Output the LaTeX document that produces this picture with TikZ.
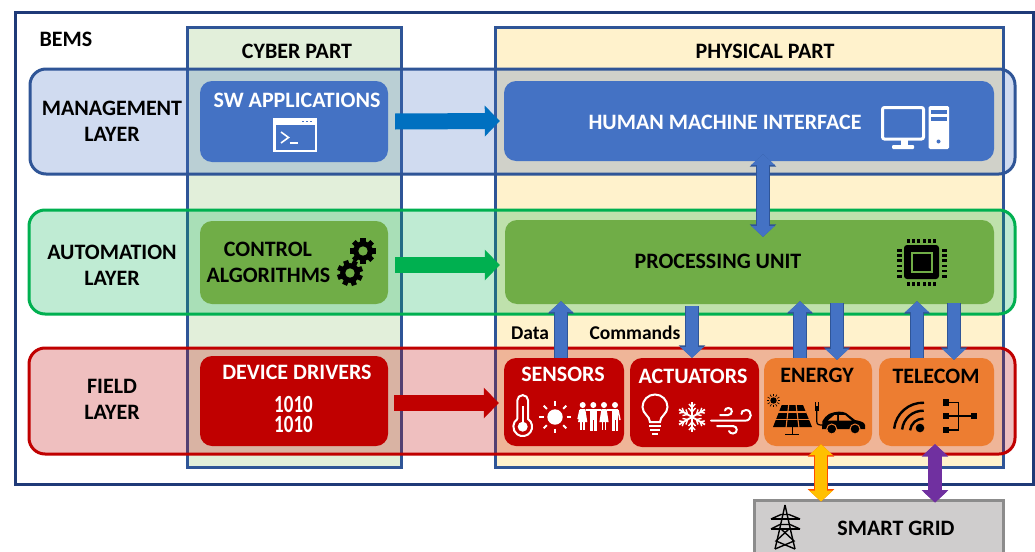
\documentclass[tikz,border=0pt]{standalone}
\usepackage{fontspec}
\setmainfont{Carlito}
\usetikzlibrary{arrows.meta,calc}
\definecolor{dkblue}{HTML}{1F3A78}
\definecolor{edgeblue}{HTML}{2F5597}
\definecolor{boxblue}{HTML}{4472C4}
\definecolor{boxgreen}{HTML}{70AD47}
\definecolor{boxred}{HTML}{C00000}
\definecolor{boxorange}{HTML}{ED7D31}
\definecolor{laygreen}{HTML}{00B050}
\definecolor{cyberfill}{HTML}{E2EFDA}
\definecolor{physfill}{HTML}{FFF2CC}
\definecolor{arrowblue}{HTML}{0070C0}
\definecolor{yellowarrow}{HTML}{FFC000}
\definecolor{purplearrow}{HTML}{7030A0}
\definecolor{gridfill}{HTML}{CFCDCD}
\definecolor{gridedge}{HTML}{8C8C8C}
\tikzset{
  x=1pt,y=1pt,
  lbl/.style={font=\bfseries\fontsize{22}{26}\selectfont,align=center,inner sep=0pt,text=black},
  wlbl/.style={lbl,text=white},
  part/.style={draw=edgeblue,line width=3pt,minimum width=#1,inner sep=0pt},
  layerbox/.style={line width=3pt,fill opacity=.25,rounded corners=16pt,inner sep=0pt},
  card/.style={rounded corners=12pt,inner sep=0pt},
  flowarrow/.style={line width=16pt,-{Triangle[length=15pt,width=30pt]}},
  updown/.style 2 args={draw=#1,line width=12pt,
     preaction={draw=#2,line width=13.6pt,-{Triangle[length=12.5pt,width=26pt]}},
     -{Triangle[length=10.8pt,width=23pt]}},
  bothways/.style 2 args={draw=#1,line width=12pt,
     preaction={draw=#2,line width=14pt,{Triangle[length=12.5pt,width=26pt]}-{Triangle[length=12.5pt,width=26pt]}},
     {Triangle[length=10.8pt,width=23pt]}-{Triangle[length=10.8pt,width=23pt]}},
  wico/.style={draw=white,line width=2pt},
}
\newcommand{\mygear}[4]{%
  \begin{scope}[shift={(#1,#2)}]
    \foreach \a in {0,45,...,315}{\fill[black,rotate=\a+#4] (-.2*#3 pt,0pt) rectangle (.2*#3 pt,#3 pt);}
    \fill[black] (0,0) circle (.76*#3 pt);
    \fill[boxgreen] (0,0) circle (.36*#3 pt);
  \end{scope}}
\newcommand{\myfemale}[1]{%
  \begin{scope}[shift={(#1,0)}]
    \fill[white] (0,-405) circle (3pt);
    \fill[white] (-2.6,-409) -- (2.6,-409) -- (4.6,-422) -- (-4.6,-422) -- cycle;
    \fill[white] (-2.4,-422) rectangle (-.6,-430);
    \fill[white] (.6,-422) rectangle (2.4,-430);
  \end{scope}}
\newcommand{\mymale}[1]{%
  \begin{scope}[shift={(#1,0)}]
    \fill[white] (0,-405) circle (3pt);
    \fill[white] (-3.4,-409) rectangle (3.4,-420);
    \fill[white] (-3.4,-420) rectangle (-.5,-431);
    \fill[white] (.5,-420) rectangle (3.4,-431);
  \end{scope}}
\begin{document}
\begin{tikzpicture}[x=1pt,y=1pt]
\useasboundingbox (0,0) rectangle (1035,-551);
\fill[white] (0,0) rectangle (1035,-551);
% outer frame
\node[draw=dkblue,line width=3pt,minimum width=1018,minimum height=471,inner sep=0pt] (bems) at (524.5,-248.5) {};
\node[lbl] (bemslabel) at (66,-39) {BEMS};
% parts
\node[part=214,fill=cyberfill,minimum height=439] (cyber) at (294,-247.5) {};
\node[part=508,fill=physfill,minimum height=439] (phys) at (749,-247.5) {};
\node[lbl] (cyberlabel) at (297,-51) {CYBER PART};
\node[lbl] (physlabel) at (765,-51) {PHYSICAL PART};
% layers
\node[layerbox,draw=edgeblue,fill=boxblue,draw opacity=1,minimum width=985,minimum height=105] (mgmt) at (522.5,-121.5) {};
\node[layerbox,draw=laygreen,fill=laygreen,draw opacity=1,minimum width=986,minimum height=104] (auto) at (522,-262) {};
\node[layerbox,draw=boxred,fill=boxred,draw opacity=1,minimum width=986,minimum height=106] (field) at (522,-401) {};
\node[lbl] (mgmtlabel) at (112,-121) {MANAGEMENT\\LAYER};
\node[lbl] (autolabel) at (112,-265) {AUTOMATION\\LAYER};
\node[lbl] (fieldlabel) at (112,-399) {FIELD\\LAYER};
% cards
\node[card,fill=boxblue,minimum width=188,minimum height=81] (sw) at (294,-121.5) {};
\node[card,fill=boxblue,minimum width=490,minimum height=80] (hmi) at (749,-121) {};
\node[card,fill=boxgreen,minimum width=188,minimum height=83] (ctrl) at (294,-262.5) {};
\node[card,fill=boxgreen,minimum width=489,minimum height=84] (proc) at (749.5,-262) {};
\node[card,fill=boxred,minimum width=188,minimum height=90] (drivers) at (294,-401) {};
\node[card,fill=boxred,minimum width=120,minimum height=88] (sensors) at (564,-402) {};
\node[card,fill=boxred,minimum width=129,minimum height=89] (actuators) at (694.5,-402.5) {};
\node[card,fill=boxorange,minimum width=108,minimum height=88] (energy) at (818,-402) {};
\node[card,fill=boxorange,minimum width=115,minimum height=88] (telecom) at (936.5,-402) {};
\node[draw=gridedge,fill=gridfill,line width=3pt,minimum width=249,minimum height=60,inner sep=0pt] (grid) at (878.5,-530) {};
% card labels
\node[wlbl] (swlabel) at (297,-100) {SW APPLICATIONS};
\node[wlbl] (hmilabel) at (725,-122) {HUMAN MACHINE INTERFACE};
\node[lbl] (ctrllabel) at (268,-249) {CONTROL};
\node[lbl] (ctrllabelb) at (268.5,-275) {ALGORITHMS};
\node[lbl] (proclabel) at (718,-261) {PROCESSING UNIT};
\node[wlbl] (drvlabel) at (297,-372) {DEVICE DRIVERS};
\node[wlbl,yscale=1.3,font=\bfseries\fontsize{19}{15}\selectfont] (binlabel) at (293.5,-414.5) {1010\\1010};
\node[wlbl] (senslabel) at (563,-374) {SENSORS};
\node[wlbl] (actlabel) at (693,-376) {ACTUATORS};
\node[lbl] (enlabel) at (817,-375) {ENERGY};
\node[lbl] (tellabel) at (936,-376) {TELECOM};
\node[lbl] (gridlabel) at (896,-528) {SMART GRID};
\node[lbl,font=\bfseries\fontsize{19.5}{22}\selectfont] (datalabel) at (530,-333) {Data};
\node[lbl,font=\bfseries\fontsize{19.5}{22}\selectfont] (cmdlabel) at (635,-333) {Commands};
% flow arrows
\draw[flowarrow,draw=arrowblue] ([xshift=7pt]sw.east) -- ([xshift=-4pt,yshift=0pt]hmi.west);
\draw[flowarrow,draw=laygreen] ([xshift=7pt,yshift=-2.5pt]ctrl.east) -- ([xshift=-5pt,yshift=-3pt]proc.west);
\draw[flowarrow,draw=boxred] ([xshift=6pt,yshift=-2pt]drivers.east) -- ([xshift=-5pt,yshift=-1pt]sensors.west);
% vertical arrows
\draw[bothways={boxblue}{edgeblue}] ([xshift=14pt,yshift=7pt]hmi.south) -- ([xshift=13.5pt,yshift=-17pt]proc.north);
\draw[updown={boxblue}{edgeblue}] ([xshift=-3pt]sensors.north) -- ([xshift=-188.5pt,yshift=3pt]proc.south);
\draw[updown={boxblue}{edgeblue}] ([xshift=-57.5pt,yshift=-2pt]proc.south) -- ([xshift=-2.5pt]actuators.north);
\draw[updown={boxblue}{edgeblue}] ([xshift=-18pt]energy.north) -- ([xshift=50.5pt,yshift=3pt]proc.south);
\draw[updown={boxblue}{edgeblue}] ([xshift=87.5pt,yshift=1pt]proc.south) -- ([xshift=19pt,yshift=-2pt]energy.north);
\draw[updown={boxblue}{edgeblue}] ([xshift=-19.5pt]telecom.north) -- ([xshift=167.5pt,yshift=3pt]proc.south);
\draw[updown={boxblue}{edgeblue}] ([xshift=204.5pt,yshift=1pt]proc.south) -- ([xshift=17.5pt,yshift=-2pt]telecom.north);
\draw[bothways={yellowarrow}{orange!60!red}] ([xshift=3pt,yshift=2pt]energy.south) -- ([xshift=-57.5pt,yshift=-3pt]grid.north);
\draw[bothways={purplearrow}{purplearrow}] ([xshift=-1.5pt,yshift=2pt]telecom.south) -- ([xshift=56.5pt,yshift=-4pt]grid.north);
% terminal icon
\fill[white] (273,-118) rectangle (317,-152);
\fill[boxblue] (275.5,-124.5) rectangle (314.5,-149.5);
\fill[boxblue] (302,-120.5) rectangle (304,-122);\fill[boxblue] (306,-120.5) rectangle (308,-122);\fill[boxblue] (310,-120.5) rectangle (312,-122);
\draw[white,line width=1.6pt] (281,-132) -- (288.5,-137.5) -- (281,-143);
\draw[white,line width=1.6pt] (289.5,-143) -- (298,-143);
% gears
\mygear{363}{-251}{13}{0}
\mygear{350}{-273}{13}{20}
% computer icon
\draw[white,line width=3pt,rounded corners=2pt] (882.5,-107.5) rectangle (923.5,-139);
\fill[white] (901,-139) rectangle (908,-146);
\fill[white,rounded corners=1pt] (892,-145) rectangle (914,-149);
\fill[white,rounded corners=1.5pt] (928.5,-106) rectangle (949,-149);
\fill[boxblue] (931,-109.5) rectangle (946.5,-113.5);
\fill[boxblue] (931,-117) rectangle (946.5,-120.5);
\fill[boxblue] (938.5,-141.5) circle (2pt);
% chip icon
\fill[black,rounded corners=3pt] (904,-245) rectangle (939,-279);
\draw[boxgreen,line width=2pt] (912,-253) rectangle (932,-272);
\foreach \i in {0,...,5}{
  \fill[black] ({907+\i*5.2},-239) rectangle ({910+\i*5.2},-243);
  \fill[black] ({907+\i*5.2},-282) rectangle ({910+\i*5.2},-285.5);
  \fill[black] (897,{-249-\i*5.2}) rectangle (902,{-251.6-\i*5.2});
  \fill[black] (942,{-249-\i*5.2}) rectangle (947,{-251.6-\i*5.2});
}
% thermometer
\draw[wico] (517.3,-419) -- (517.3,-400.5) arc[start angle=180,end angle=0,radius=5.4pt] -- (528.1,-419) arc[start angle=55,end angle=-235,radius=9.4pt];
\fill[white] (522.7,-426.7) circle (5pt);
\fill[white] (521.7,-406) rectangle (523.7,-424);
% sun
\fill[white] (555,-417) circle (7.7pt);
\foreach \a in {0,45,...,315}{\draw[white,line width=1.8pt] ($(555,-417)+(\a:11.5pt)$) -- ($(555,-417)+(\a:16pt)$);}
% people
\myfemale{582.7}\mymale{593.3}\myfemale{604}\mymale{615}
\draw[white,line width=1.4pt] (580,-410) -- (578,-419);
\draw[white,line width=1.4pt] (585.5,-410) -- (590,-410);
\draw[white,line width=1.4pt] (596.5,-410) -- (601,-410);
\draw[white,line width=1.4pt] (607,-410) -- (612,-410);
\draw[white,line width=1.4pt] (618,-410) -- (620,-420);
% bulb
\draw[wico] (650,-422) .. controls (650,-416) and (642.5,-414) .. (642.5,-407) arc[start angle=180,end angle=0,radius=12.5pt] .. controls (667.5,-414) and (660,-416) .. (660,-422) -- cycle;
\draw[white,line width=2pt] (649,-425.5) -- (661,-425.5);
\draw[white,line width=2pt] (650,-429.5) -- (660,-429.5);
\draw[white,line width=2pt] (652,-433.5) -- (658,-433.5);
% snowflake
\begin{scope}[shift={(692,-417)}]
  \foreach \a in {30,90,...,330}{
    \begin{scope}[rotate=\a]
      \draw[white,line width=1.8pt] (0,0) -- (15,0);
      \draw[white,line width=1.4pt] (5,0) -- (9,3.5) (5,0) -- (9,-3.5) (9.5,0) -- (13,3) (9.5,0) -- (13,-3);
    \end{scope}}
\end{scope}
% wind
\draw[wico,line cap=round] (720,-415) -- (728,-415) .. controls (733,-415) and (733,-408) .. (728.5,-408) .. controls (726.5,-408) and (725,-409) .. (725,-410.5);
\draw[wico,line cap=round] (711,-420.7) -- (745,-420.7) .. controls (752.5,-420.7) and (752.5,-410) .. (746,-410) .. controls (743,-410) and (741,-412) .. (741.5,-414);
\draw[wico,line cap=round] (717,-426) -- (733,-426) .. controls (738,-426) and (738,-433.5) .. (733,-433.5) .. controls (731,-433.5) and (729.5,-432.5) .. (729,-431);
% small sun
\fill[black] (773.5,-400.5) circle (3.2pt);
\foreach \a in {0,30,...,330}{\draw[black,line width=.6pt] ($(773.5,-400.5)+(\a:4.2pt)$) -- ($(773.5,-400.5)+(\a:6.8pt)$);}
% solar panel
\begin{scope}
  \fill[black] (781.7,-405) -- (803,-405) -- (812,-427) -- (773,-427) -- cycle;
  \draw[boxorange,line width=1.1pt] (788.8,-404) -- (786,-428) (796,-404) -- (799,-428);
  \draw[boxorange,line width=1.3pt] (778,-412) -- (806,-412) (775,-419.5) -- (810,-419.5);
  \draw[black,line width=1.6pt] (792.5,-427) -- (792.5,-434) (785,-434.5) -- (799,-434.5);
\end{scope}
% plug and car
\fill[black] (814.5,-405.5) -- (819,-405.5) -- (819,-411) -- (814.5,-411) -- cycle;
\draw[black,line width=1pt] (815.5,-402) -- (815.5,-405.5) (818,-402) -- (818,-405.5);
\draw[black,line width=1.2pt] (816.7,-411) -- (816.7,-421) .. controls (816.7,-425) and (819,-425) .. (823,-425);
\fill[black] (822,-429) -- (822.5,-421) .. controls (824,-418) and (826,-416) .. (829,-414) .. controls (836,-411) and (842,-411) .. (846,-413) -- (855,-420) .. controls (860,-421) and (864.5,-422) .. (865,-425) -- (865,-429) -- cycle;
\fill[boxorange] (828,-420.5) -- (834.5,-415) -- (837,-415) -- (837,-420.5) -- cycle;
\fill[boxorange] (839,-415) -- (845,-415) -- (851.5,-420.5) -- (839,-420.5) -- cycle;
\filldraw[black,draw=boxorange,line width=1pt] (831.7,-429) circle (5pt);
\filldraw[black,draw=boxorange,line width=1pt] (855,-429) circle (5pt);
% wifi
\fill[black] (920,-428) circle (4.3pt);
\foreach \r in {13,21,29}{\draw[black,line width=2.4pt] ($(923,-431.7)+(174:\r pt)$) arc[start angle=174,end angle=88,radius=\r pt];}
% hierarchy
\foreach \y in {402.3,416,430}{\fill[black] (942.5,-\y-3.2) rectangle (949,-\y+3.2);}
\fill[black] (970.7,-412.7) rectangle (977.3,-419.3);
\draw[black,line width=1.3pt] (949,-402.3) -- (958.3,-402.3) -- (958.3,-430) -- (949,-430) (949,-416) -- (970.7,-416);
% pylon
\begin{scope}[black,line width=1.4pt]
  \draw (785,-505) -- (779,-532) -- (775,-549);
  \draw (785,-505) -- (791,-532) -- (795,-549);
  \draw (771,-519) -- (781,-514.5) -- (789,-514.5) -- (800,-519);
  \draw (771,-519) -- (800,-519);
  \draw (771,-529) -- (780,-524.5) -- (790,-524.5) -- (800,-529);
  \draw (771,-529) -- (800,-529);
  \draw (780,-528) -- (794,-541) -- (775,-549);
  \draw (790,-528) -- (776,-541) -- (795,-549);
\end{scope}
\end{tikzpicture}
\end{document}
